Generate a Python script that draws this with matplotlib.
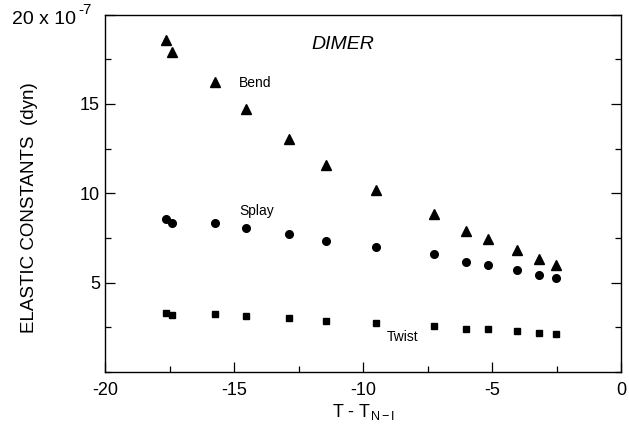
import matplotlib.pyplot as plt
from matplotlib.ticker import MultipleLocator

plt.rcParams["font.family"] = "Liberation Sans"
plt.rcParams["mathtext.fontset"] = "custom"
plt.rcParams["mathtext.rm"] = "Liberation Sans"
plt.rcParams["mathtext.it"] = "Liberation Sans:italic"

# temperature relative to N-I transition
t_bend = [-17.64, -17.43, -15.75, -14.54, -12.90, -11.46, -9.51, -7.28, -6.03, -5.17, -4.05, -3.21, -2.55]
bend = [18.57, 17.92, 16.25, 14.74, 13.05, 11.61, 10.19, 8.82, 7.87, 7.45, 6.83, 6.35, 5.97]

t_splay = [-17.64, -17.43, -15.75, -14.54, -12.90, -11.46, -9.51, -7.28, -6.03, -5.17, -4.05, -3.21, -2.55]
splay = [8.57, 8.34, 8.33, 8.06, 7.75, 7.34, 7.00, 6.59, 6.16, 6.01, 5.71, 5.45, 5.26]

t_twist = [-17.64, -17.43, -15.75, -14.54, -12.90, -11.46, -9.51, -7.28, -6.03, -5.17, -4.05, -3.21, -2.55]
twist = [3.31, 3.21, 3.23, 3.14, 3.01, 2.88, 2.75, 2.60, 2.42, 2.38, 2.27, 2.18, 2.12]

fig = plt.figure(figsize=(6.29, 4.28), dpi=100)
ax = fig.add_axes([0.1677, 0.1308, 0.8203, 0.8351])

ax.plot(t_bend, bend, "^", color="black", ms=6.5, ls="none")
ax.plot(t_splay, splay, "o", color="black", ms=5.5, ls="none")
ax.plot(t_twist, twist, "s", color="black", ms=4.8, ls="none")

ax.set_xlim(-20, 0)
ax.set_ylim(0, 20)

ax.xaxis.set_major_locator(MultipleLocator(5))
ax.xaxis.set_minor_locator(MultipleLocator(2.5))
ax.yaxis.set_major_locator(MultipleLocator(5))
ax.yaxis.set_minor_locator(MultipleLocator(2.5))
ax.tick_params(which="both", direction="in", right=True, top=False, labelsize=13, width=0.9)
ax.tick_params(which="major", length=7)
ax.tick_params(which="minor", length=4)
ax.tick_params(axis="y", pad=4)
ax.tick_params(axis="x", pad=7)

ax.set_yticks([5, 10, 15, 20])
ax.set_yticklabels(["5", "10", "15", ""])
ax.set_xticks([-20, -15, -10, -5, 0])
ax.set_xticklabels(["-20", "-15", "-10", "-5", "0"])

# top label carries the scale factor
fig.text(76 / 629, 1 - 19 / 428, "20 x 10", fontsize=14, ha="right", va="center")
fig.text(78 / 629, 1 - 10 / 428, "-7", fontsize=11, ha="left", va="center")

for s in ax.spines.values():
    s.set_linewidth(1.0)

ax.set_ylabel("ELASTIC CONSTANTS  (dyn)", fontsize=13.5)
ax.yaxis.set_label_coords(-0.13, 0.46)
ax.set_xlabel(r"T - T$_{\mathrm{N-I}}$", fontsize=13, labelpad=2)

ax.text(-12.0, 18.3, "DIMER", fontsize=14, style="italic", va="center")
ax.text(-14.82, 16.16, "Bend", fontsize=10, va="center")
ax.text(-14.82, 9.03, "Splay", fontsize=10, va="center")
ax.text(-9.11, 1.94, "Twist", fontsize=10, va="center")

plt.savefig("out.png", dpi=100)
plt.close()
